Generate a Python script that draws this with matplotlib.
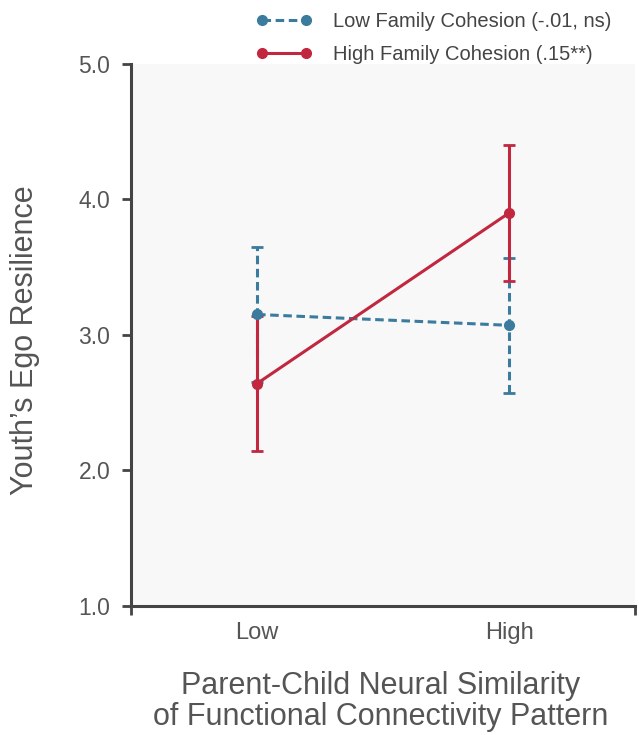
import matplotlib
matplotlib.use("Agg")

import matplotlib.pyplot as plt
from matplotlib.lines import Line2D

# ------------------ DATA ------------------

x_labels = ["Low", "High"]
x_pos = [0, 1]

low_cohesion = [3.15, 3.07]
low_err = [0.50, 0.50]

high_cohesion = [2.64, 3.90]
high_err = [0.50, 0.50]

legend_labels = ["Low Family Cohesion (-.01, ns)", "High Family Cohesion (.15**)"]

BLUE = "#3b7b9d"
RED = "#c1283f"
SPINE = "#444444"
TEXT = "#555555"
DASH = (0, (2.8, 1.5))

plt.rcParams["font.family"] = ["Liberation Sans", "DejaVu Sans"]

fig = plt.figure(figsize=(6.39, 7.35), dpi=100)
ax = fig.add_axes([0.205, 0.176, 0.789, 0.737])
ax.set_facecolor("#f8f8f8")

# low cohesion line + bars go under the red series
eb = ax.errorbar(x_pos, low_cohesion, yerr=low_err, color=BLUE, lw=2.2,
                 ls=DASH, capsize=4, capthick=2, elinewidth=2.2, zorder=2)
for lc in eb[2]:
    lc.set_linestyle(DASH)

# high cohesion (solid)
ax.errorbar(x_pos, high_cohesion, yerr=high_err, color=RED, lw=2.2,
            marker="o", ms=7, capsize=4, capthick=2, elinewidth=2.2, zorder=3)

# blue markers on top
ax.plot(x_pos, low_cohesion, ls="none", marker="o", ms=7, color=BLUE, zorder=4)

ax.set_xlim(-0.5, 1.5)
ax.set_ylim(1.0, 5.0)

ax.set_yticks([1, 2, 3, 4, 5])
ax.set_yticklabels(["1.0", "2.0", "3.0", "4.0", "5.0"])

# end ticks on x-axis, labels on the category positions
ax.set_xticks([-0.5, 1.5])
ax.set_xticklabels(["", ""])
ax.set_xticks(x_pos, minor=True)
ax.set_xticklabels(x_labels, minor=True)

ax.tick_params(axis="both", which="major", direction="out", length=6.5,
               width=2, color=SPINE, labelcolor=TEXT)
ax.tick_params(axis="y", which="major", labelsize=16.5, pad=8.5)
ax.tick_params(axis="x", which="minor", length=0, pad=12,
               labelsize=17, labelcolor=TEXT)

for side in ["top", "right"]:
    ax.spines[side].set_visible(False)
for side in ["left", "bottom"]:
    ax.spines[side].set_color(SPINE)
    ax.spines[side].set_linewidth(2.2)

ax.set_ylabel("Youth\u2019s Ego Resilience", fontsize=22, color=TEXT)
ax.yaxis.set_label_coords(-0.18, 0.49)
ax.set_xlabel("Parent-Child Neural Similarity\nof Functional Connectivity Pattern",
              fontsize=22, color=TEXT, linespacing=1.05)
ax.xaxis.set_label_coords(0.495, -0.121)

handles = [
    Line2D([0], [0], color=BLUE, lw=2.2, ls=DASH, marker="o", ms=7),
    Line2D([0], [0], color=RED, lw=2.2, marker="o", ms=7),
]
fig.legend(handles, legend_labels, loc="upper left", bbox_to_anchor=(0.388, 0.994),
           frameon=False, numpoints=2, handlelength=2.79, handletextpad=1.05,
           labelspacing=0.68, borderaxespad=0, fontsize=14.5, labelcolor="#444444")

fig.savefig("out.png", dpi=100)
plt.close(fig)
